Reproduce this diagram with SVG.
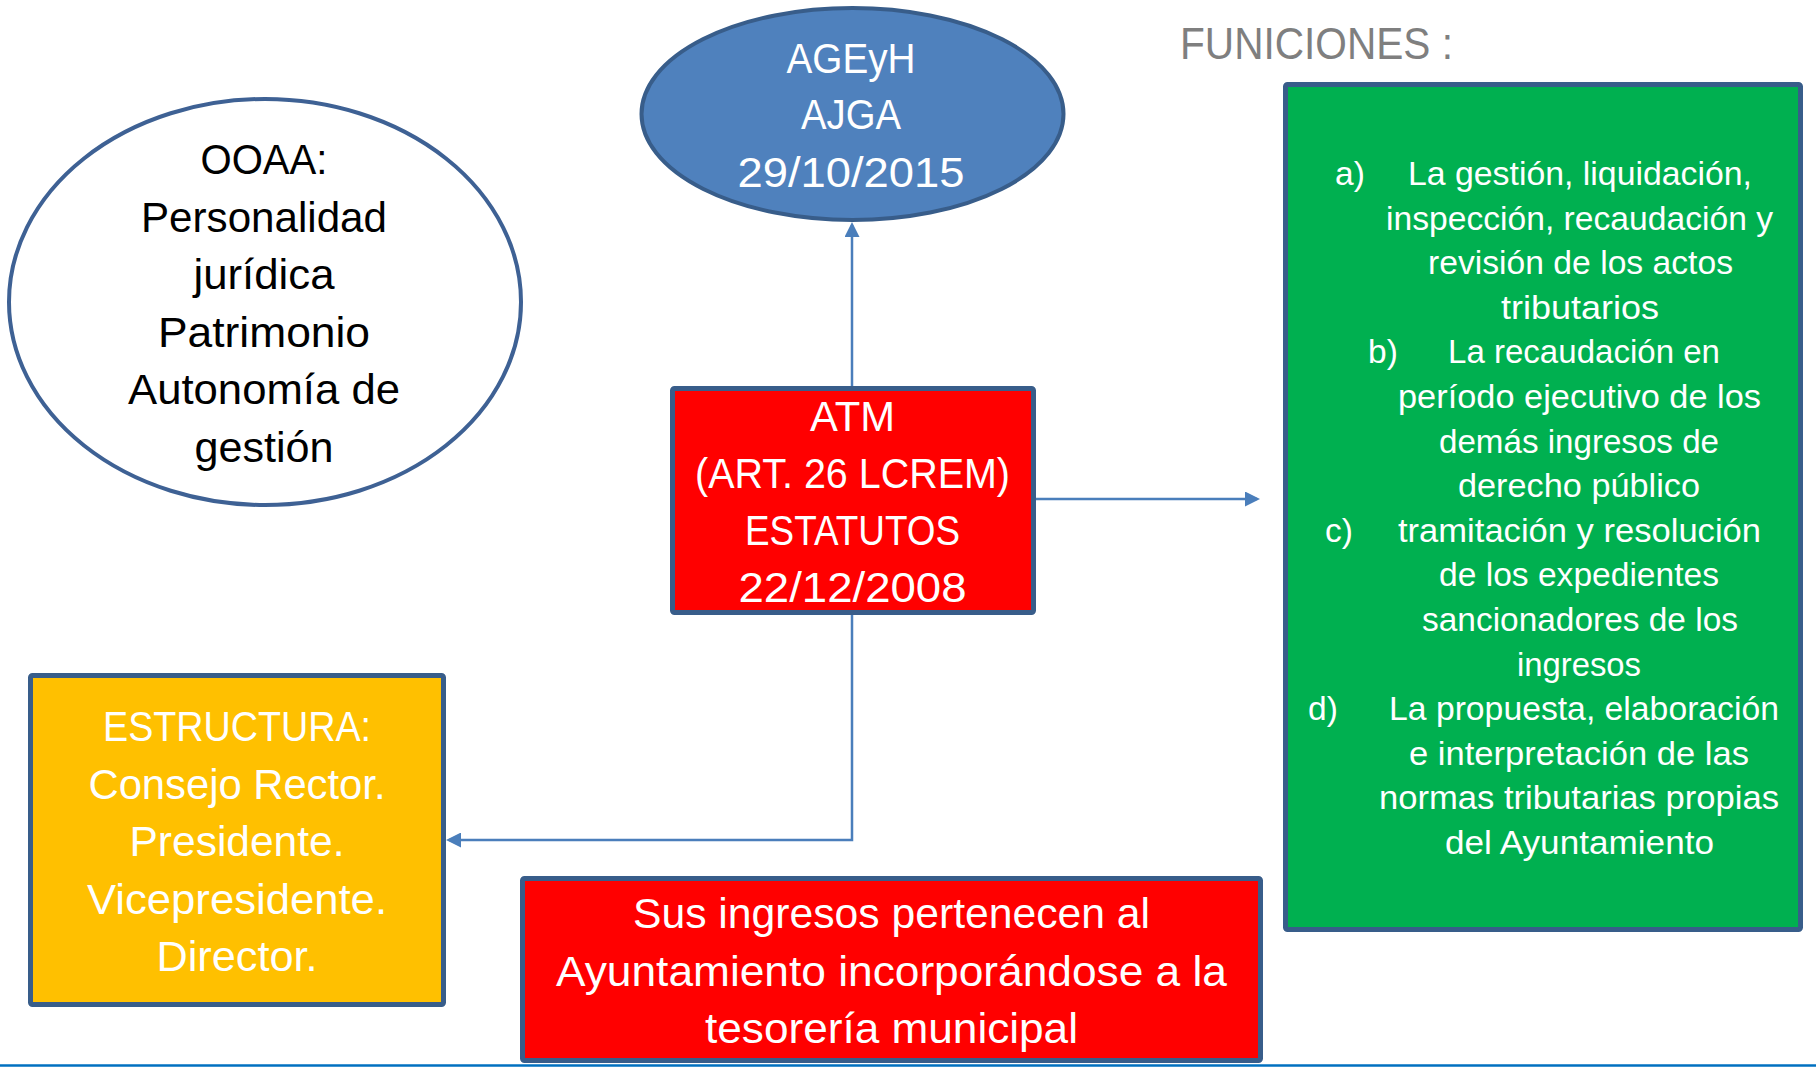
<svg xmlns="http://www.w3.org/2000/svg" width="1816" height="1067" viewBox="0 0 1816 1067">
<defs>
<style>
text{font-family:"Liberation Sans",Arial,sans-serif;}
.big{font-size:42.5px;}
.grn{font-size:33.5px;fill:#FFFFFF;}
.w{fill:#FFFFFF;}
.k{fill:#000000;}
.box{stroke:#385D8A;stroke-width:5;stroke-linejoin:round;}
.conn{fill:none;stroke:#4A7EBB;stroke-width:2.5;marker-end:url(#arr);}
</style>
<marker id="arr" viewBox="0 0 10 10" refX="8" refY="5" markerWidth="15" markerHeight="15" markerUnits="userSpaceOnUse" orient="auto">
<path d="M0,0 L10,5 L0,10 Z" fill="#4A7EBB"/>
</marker>
</defs>
<rect width="1816" height="1067" fill="#FFFFFF"/>

<g id="connectors">
<path class="conn" d="M852 386 V225"/>
<path class="conn" d="M1036 499 H1257"/>
<path class="conn" d="M852 615 V840 H449"/>
</g>

<g id="agyeh">
<ellipse cx="852.5" cy="114" rx="211" ry="106" fill="#4F81BD" stroke="#385D8A" stroke-width="4"/>
<text class="big w" x="851" y="72.7" text-anchor="middle" textLength="129" lengthAdjust="spacingAndGlyphs">AGEyH</text>
<text class="big w" x="851" y="129.3" text-anchor="middle" textLength="100" lengthAdjust="spacingAndGlyphs">AJGA</text>
<text class="big w" x="851" y="186.7" text-anchor="middle" textLength="227" lengthAdjust="spacingAndGlyphs">29/10/2015</text>
</g>

<g id="ooaa">
<ellipse cx="265" cy="302" rx="256" ry="203" fill="#FFFFFF" stroke="#3E6194" stroke-width="4"/>
<text class="big k" x="264" y="174" text-anchor="middle" textLength="127" lengthAdjust="spacingAndGlyphs">OOAA:</text>
<text class="big k" x="264" y="231.5" text-anchor="middle" textLength="246" lengthAdjust="spacingAndGlyphs">Personalidad</text>
<text class="big k" x="264" y="289" text-anchor="middle" textLength="141" lengthAdjust="spacingAndGlyphs">jurídica</text>
<text class="big k" x="264" y="346.5" text-anchor="middle" textLength="212" lengthAdjust="spacingAndGlyphs">Patrimonio</text>
<text class="big k" x="264" y="404" text-anchor="middle" textLength="272" lengthAdjust="spacingAndGlyphs">Autonomía de</text>
<text class="big k" x="264" y="461.5" text-anchor="middle" textLength="139" lengthAdjust="spacingAndGlyphs">gestión</text>
</g>

<g id="atm">
<rect class="box" x="672.5" y="388.5" width="361" height="224" rx="2" fill="#FF0000"/>
<text class="big w" x="852.5" y="431" text-anchor="middle" textLength="85" lengthAdjust="spacingAndGlyphs">ATM</text>
<text class="big w" x="852.5" y="488" text-anchor="middle" textLength="315" lengthAdjust="spacingAndGlyphs">(ART. 26 LCREM)</text>
<text class="big w" x="852.5" y="545" text-anchor="middle" textLength="215" lengthAdjust="spacingAndGlyphs">ESTATUTOS</text>
<text class="big w" x="852.5" y="602" text-anchor="middle" textLength="228" lengthAdjust="spacingAndGlyphs">22/12/2008</text>
</g>

<g id="estructura">
<rect class="box" x="30.5" y="675.5" width="413" height="329" rx="2" fill="#FFC000"/>
<text class="big w" x="237" y="741" text-anchor="middle" textLength="268" lengthAdjust="spacingAndGlyphs">ESTRUCTURA:</text>
<text class="big w" x="237" y="798.5" text-anchor="middle" textLength="297" lengthAdjust="spacingAndGlyphs">Consejo Rector.</text>
<text class="big w" x="237" y="856" text-anchor="middle" textLength="215" lengthAdjust="spacingAndGlyphs">Presidente.</text>
<text class="big w" x="237" y="913.5" text-anchor="middle" textLength="300" lengthAdjust="spacingAndGlyphs">Vicepresidente.</text>
<text class="big w" x="237" y="971" text-anchor="middle" textLength="161" lengthAdjust="spacingAndGlyphs">Director.</text>
</g>

<g id="ingresos">
<rect class="box" x="522.5" y="878.5" width="738" height="182" rx="2" fill="#FF0000"/>
<text class="big w" x="891.5" y="928" text-anchor="middle" textLength="517" lengthAdjust="spacingAndGlyphs">Sus ingresos pertenecen al</text>
<text class="big w" x="891.5" y="986" text-anchor="middle" textLength="671" lengthAdjust="spacingAndGlyphs">Ayuntamiento incorporándose a la</text>
<text class="big w" x="891.5" y="1043" text-anchor="middle" textLength="373" lengthAdjust="spacingAndGlyphs">tesorería municipal</text>
</g>

<g id="funciones-title">
<text x="1180" y="58.5" font-size="44" fill="#7F7F7F" textLength="273" lengthAdjust="spacingAndGlyphs">FUNICIONES :</text>
</g>

<g id="funciones">
<rect class="box" x="1285.5" y="84.5" width="515" height="845" rx="2" fill="#00B050"/>
<text class="grn" x="1335" y="185">a)</text>
<text class="grn" x="1408" y="185" textLength="344" lengthAdjust="spacingAndGlyphs">La gestión, liquidación,</text>
<text class="grn" x="1386" y="229.6" textLength="387" lengthAdjust="spacingAndGlyphs">inspección, recaudación y</text>
<text class="grn" x="1428" y="274.2" textLength="305" lengthAdjust="spacingAndGlyphs">revisión de los actos</text>
<text class="grn" x="1501" y="318.8" textLength="158" lengthAdjust="spacingAndGlyphs">tributarios</text>
<text class="grn" x="1368" y="363.4">b)</text>
<text class="grn" x="1448" y="363.4" textLength="272" lengthAdjust="spacingAndGlyphs">La recaudación en</text>
<text class="grn" x="1398" y="408" textLength="363" lengthAdjust="spacingAndGlyphs">período ejecutivo de los</text>
<text class="grn" x="1439" y="452.6" textLength="280" lengthAdjust="spacingAndGlyphs">demás ingresos de</text>
<text class="grn" x="1458" y="497.2" textLength="242" lengthAdjust="spacingAndGlyphs">derecho público</text>
<text class="grn" x="1325" y="541.8">c)</text>
<text class="grn" x="1398" y="541.8" textLength="363" lengthAdjust="spacingAndGlyphs">tramitación y resolución</text>
<text class="grn" x="1439" y="586.4" textLength="280" lengthAdjust="spacingAndGlyphs">de los expedientes</text>
<text class="grn" x="1422" y="631" textLength="316" lengthAdjust="spacingAndGlyphs">sancionadores de los</text>
<text class="grn" x="1517" y="675.6" textLength="124" lengthAdjust="spacingAndGlyphs">ingresos</text>
<text class="grn" x="1308" y="720.2">d)</text>
<text class="grn" x="1389" y="720.2" textLength="390" lengthAdjust="spacingAndGlyphs">La propuesta, elaboración</text>
<text class="grn" x="1409" y="764.8" textLength="340" lengthAdjust="spacingAndGlyphs">e interpretación de las</text>
<text class="grn" x="1379" y="809.4" textLength="400" lengthAdjust="spacingAndGlyphs">normas tributarias propias</text>
<text class="grn" x="1445" y="854" textLength="269" lengthAdjust="spacingAndGlyphs">del Ayuntamiento</text>
</g>

<line x1="0" y1="1065.5" x2="1816" y2="1065.5" stroke="#0070C0" stroke-width="2.5"/>
</svg>
